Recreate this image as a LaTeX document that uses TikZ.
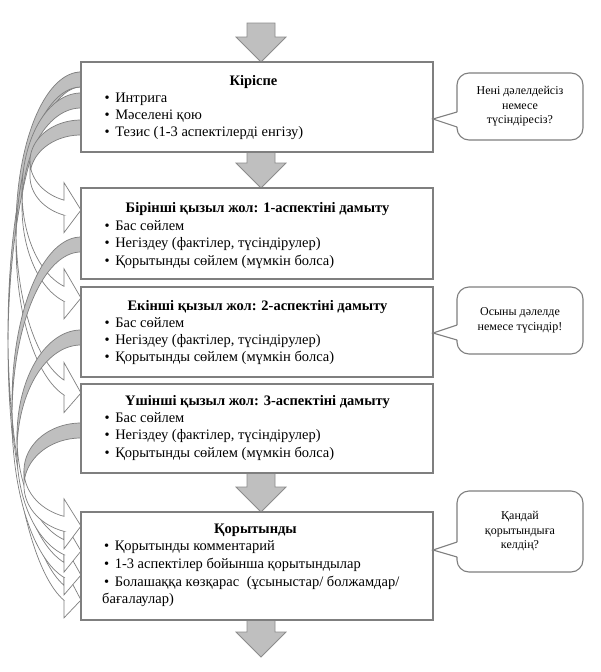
\documentclass[tikz,border=0pt]{standalone}
\usepackage{fontspec}
\setmainfont{Liberation Serif}
\usetikzlibrary{calc}
\pgfdeclarelayer{bg}
\pgfsetlayers{bg,main}
\definecolor{bordc}{HTML}{7F7F7F}
\definecolor{arrf}{HTML}{BFBFBF}
\definecolor{arrd}{HTML}{8C8C8C}
\newcommand{\mainsz}{\fontsize{14.5pt}{17.5pt}\selectfont}
\newcommand{\callsz}{\fontsize{12pt}{14.5pt}\selectfont}
\newcommand{\bl}{•\hspace{5.5pt}}
% curved arrow: #1 source node, #2 offset below its top, #3 target node, #4 offset below its top, #5 leftmost x
\newcommand{\curvarr}[5]{%
  \path (#1.north west); \pgfgetlastxy{\cvxa}{\cvya}%
  \path (#3.north west); \pgfgetlastxy{\cvxb}{\cvyb}%
  \pgfmathsetmacro{\cvr}{\cvxa}%
  \pgfmathsetmacro{\cvs}{0-(\cvya)+#2}%
  \pgfmathsetmacro{\cvt}{0-(\cvyb)+#4}%
  \pgfmathsetmacro{\cvw}{\cvr-#5}%
  \pgfmathsetmacro{\cvh}{(\cvt+25-\cvs)/2-16.25}%
  \pgfmathsetmacro{\cvca}{\cvs+\cvh}%
  \pgfmathsetmacro{\cvcb}{\cvca+15}%
  \pgfmathsetmacro{\cvta}{acos(-17/\cvw)}%
  \pgfmathsetmacro{\cvd}{asin(15/(2*\cvh))}%
  \pgfmathsetmacro{\cvyf}{\cvca+\cvh*sin(\cvta)-17.5}%
  \pgfmathsetmacro{\cvyg}{\cvcb+\cvh*sin(\cvta)+17.5}%
  \pgfmathsetmacro{\cvyh}{\cvcb+\cvh*sin(\cvta)}%
  \pgfmathsetmacro{\cvxh}{\cvr-17}%
  \filldraw[crescent] (\cvr,\cvs+15) -- plot[domain=0:1,samples=40] ({\cvr+\cvw*cos(270+(\cvd-90)*\x)},{\cvcb+\cvh*sin(270+(\cvd-90)*\x)}) -- plot[domain=0:1,samples=40] ({\cvr+\cvw*cos(180-\cvd+(90+\cvd)*\x)},{\cvca+\cvh*sin(180-\cvd+(90+\cvd)*\x)}) -- cycle;
  \filldraw[lightband] (#5,\cvca) -- plot[domain=0:1,samples=40] ({\cvr+\cvw*cos(180+(\cvta-180)*\x)},{\cvca+\cvh*sin(180+(\cvta-180)*\x)}) -- (\cvxh,\cvyf) -- (\cvr,\cvt) -- (\cvxh,\cvyg) -- (\cvxh,\cvyh) -- plot[domain=0:1,samples=40] ({\cvr+\cvw*cos(\cvta+(180-\cvta)*\x)},{\cvcb+\cvh*sin(\cvta+(180-\cvta)*\x)}) -- cycle;
}
\newcommand{\blockarr}[2]{%
  \filldraw[blockarrow] let \p1=#1, \p2=#2 in (\x1-14pt,\y1) -- (\x1+14pt,\y1) -- (\x1+14pt,\y2+25pt) -- (\x1+25pt,\y2+25pt) -- (\x1,\y2) -- (\x1-25pt,\y2+25pt) -- (\x1-14pt,\y2+25pt) -- cycle;
}
\begin{document}
\begin{tikzpicture}[x=1pt,y=-1pt,
  mainbox/.style={draw=bordc, line width=1.3pt, fill=white, minimum width=352pt, outer sep=0pt, inner sep=0pt, anchor=north west},
  ln/.style={anchor=base west, inner sep=0pt, font=\mainsz},
  ttl/.style={anchor=base, inner sep=0pt, font=\mainsz\bfseries},
  callbox/.style={draw=bordc, line width=1.1pt, rounded corners=12pt, fill=white, minimum width=126pt, align=center, inner sep=0pt, outer sep=0pt, font=\callsz, anchor=north west},
  ptr/.style={draw=bordc, line width=1.1pt},
  crescent/.style={fill=arrf, draw=bordc, line width=0.7pt},
  lightband/.style={fill=white, draw=bordc, line width=0.7pt},
  blockarrow/.style={fill=arrf, draw=arrd, line width=0.8pt}]
\useasboundingbox (0,0) rectangle (601,672);
% boxes
\node[mainbox, minimum height=90pt] (kir) at (81,62) {};
\node[mainbox, minimum height=91pt] (p1) at (81,188) {};
\node[mainbox, minimum height=90pt] (p2) at (81,287) {};
\node[mainbox, minimum height=89pt] (p3) at (81,384) {};
\node[mainbox, minimum height=108pt] (conc) at (81,512) {};
\coordinate (topc) at (261,23);
\coordinate (botc) at (261,657);
% texts
\node[ttl] (kirT) at (253.5,85) {Кіріспе};
\node[ln] (k1) at (104.5,102) {\bl Интрига};
\node[ln] (k2) at (104.5,119.5) {\bl Мәселені қою};
\node[ln] (k3) at (104.5,136.5) {\bl Тезис (1-3 аспектілерді енгізу)};
\node[ttl] (p1T) at (257.5,212.5) {Бірінші қызыл жол: 1-аспектіні дамыту};
\node[ln] (p1a) at (104.5,230) {\bl Бас сөйлем};
\node[ln] (p1b) at (104.5,247.5) {\bl Негіздеу (фактілер, түсіндірулер)};
\node[ln] (p1c) at (104.5,265) {\bl Қорытынды сөйлем (мүмкін болса)};
\node[ttl] (p2T) at (257.5,310.5) {Екінші қызыл жол: 2-аспектіні дамыту};
\node[ln] (p2a) at (104.5,327.5) {\bl Бас сөйлем};
\node[ln] (p2b) at (104.5,344.5) {\bl Негіздеу (фактілер, түсіндірулер)};
\node[ln] (p2c) at (104.5,361.5) {\bl Қорытынды сөйлем (мүмкін болса)};
\node[ttl] (p3T) at (257.5,405) {Үшінші қызыл жол: 3-аспектіні дамыту};
\node[ln] (p3a) at (104.5,422.5) {\bl Бас сөйлем};
\node[ln] (p3b) at (104.5,439.5) {\bl Негіздеу (фактілер, түсіндірулер)};
\node[ln] (p3c) at (104.5,457) {\bl Қорытынды сөйлем (мүмкін болса)};
\node[ttl] (cT) at (255.5,533.5) {Қорытынды};
\node[ln] (c1l) at (104,550.5) {\bl Қорытынды комментарий};
\node[ln] (c2l) at (104,568) {\bl 1-3 аспектілер бойынша қорытындылар};
\node[ln] (c3l) at (104,586) {\bl Болашаққа көзқарас\hspace{4pt} (ұсыныстар/ болжамдар/};
\node[ln] (c4l) at (102,603) {бағалаулар)};
% callouts
\node[callbox, minimum height=67pt] (cb1) at (457,73) {Нені дәлелдейсіз\\немесе\\түсіндіресіз?};
\node[callbox, minimum height=67pt] (cb2) at (457,287) {Осыны дәлелде\\немесе түсіндір!};
\node[callbox, minimum height=81pt] (cb3) at (457,491) {Қандай\\қорытындыға\\келдің?};
\fill[white] ($(cb1.north west)+(1.2,39)$) -- ($(kir.north east)+(0,57)$) -- ($(cb1.north west)+(1.2,54)$) -- cycle;
\draw[ptr] ($(cb1.north west)+(0,39)$) -- ($(kir.north east)+(0,57)$) -- ($(cb1.north west)+(0,54)$);
\fill[white] ($(cb2.north west)+(1.2,38)$) -- ($(p2.north east)+(0,46)$) -- ($(cb2.north west)+(1.2,53)$) -- cycle;
\draw[ptr] ($(cb2.north west)+(0,38)$) -- ($(p2.north east)+(0,46)$) -- ($(cb2.north west)+(0,53)$);
\fill[white] ($(cb3.north west)+(1.2,51)$) -- ($(conc.north east)+(0,38)$) -- ($(cb3.north west)+(1.2,66)$) -- cycle;
\draw[ptr] ($(cb3.north west)+(0,51)$) -- ($(conc.north east)+(0,38)$) -- ($(cb3.north west)+(0,66)$);
\begin{pgfonlayer}{bg}
\fill[white] (0,0) rectangle (601,672);
\curvarr{kir}{10}{conc}{88}{8}
\curvarr{kir}{10}{p3}{9}{16}
\curvarr{kir}{31}{p2}{11}{22}
\curvarr{kir}{58}{p1}{22}{30}
\curvarr{p1}{49}{conc}{63}{12}
\curvarr{p2}{43}{conc}{39}{17}
\curvarr{p3}{39}{conc}{14}{24}
\blockarr{(topc)}{($(kir.north)+(4,0)$)}
\blockarr{($(kir.south)+(4,0)$)}{($(p1.north)+(4,0)$)}
\blockarr{($(p3.south)+(4,0)$)}{($(conc.north)+(4,0)$)}
\blockarr{($(conc.south)+(4,0)$)}{(botc)}
\end{pgfonlayer}
\end{tikzpicture}
\end{document}
